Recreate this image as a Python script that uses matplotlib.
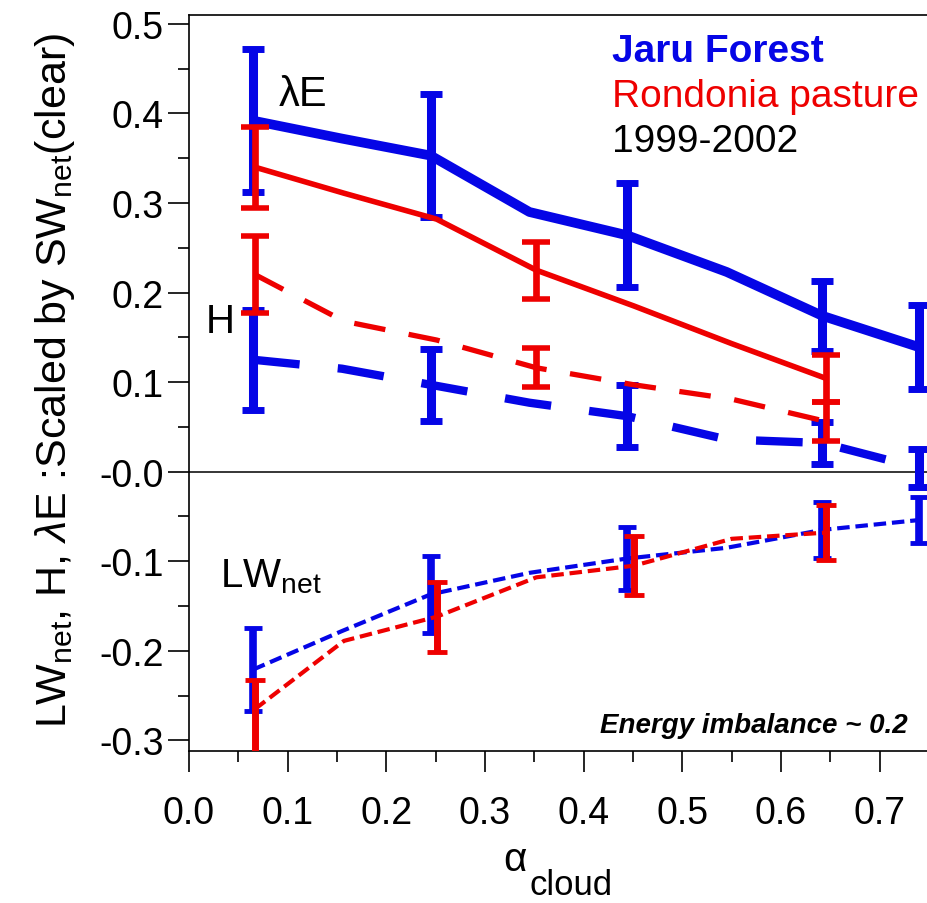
import numpy as np
import matplotlib.pyplot as plt
from matplotlib.ticker import MultipleLocator

plt.rcParams['font.family'] = ['Liberation Sans', 'DejaVu Sans']
plt.rcParams['mathtext.fontset'] = 'custom'
plt.rcParams['mathtext.rm'] = 'Liberation Sans'
plt.rcParams['mathtext.it'] = 'Liberation Sans:italic'
plt.rcParams['mathtext.bf'] = 'Liberation Sans:bold'

nan = np.nan
BLUE = '#0505e6'
RED = '#ee0000'

# cloud albedo bins for each site
x_jaru = [0.065, 0.155, 0.245, 0.345, 0.444, 0.545, 0.642, 0.740]
x_rond = [0.067, 0.157, 0.251, 0.352, 0.451, 0.550, 0.646]

# Jaru forest, scaled fluxes (nan = no error bar at that bin)
le_jaru = [0.392, 0.372, 0.353, 0.290, 0.264, 0.223, 0.174, 0.139]
le_jaru_err = [0.080, nan, 0.069, nan, 0.058, nan, 0.039, 0.047]
h_jaru = [0.125, 0.115, 0.097, 0.077, 0.062, 0.036, 0.032, 0.004]
h_jaru_err = [0.056, nan, 0.040, nan, 0.035, nan, 0.023, 0.021]
lw_jaru = [-0.221, -0.178, -0.137, -0.113, -0.097, -0.085, -0.065, -0.054]
lw_jaru_err = [0.046, nan, 0.043, nan, 0.035, nan, 0.031, 0.026]

# Rondonia pasture
le_rond = [0.340, 0.311, 0.282, 0.225, 0.185, 0.143, 0.104]
le_rond_err = [0.045, nan, nan, 0.032, nan, nan, 0.026]
h_rond = [0.220, 0.168, 0.147, 0.116, 0.097, 0.081, 0.056]
h_rond_err = [0.043, nan, nan, 0.022, nan, nan, 0.022]
lw_rond = [-0.265, -0.189, -0.162, -0.118, -0.105, -0.075, -0.068]
lw_rond_lo = [0.060, nan, 0.039, nan, 0.033, nan, 0.031]
lw_rond_hi = [0.032, nan, 0.039, nan, 0.033, nan, 0.031]

yticks = [-0.3, -0.2, -0.1, 0.0, 0.1, 0.2, 0.3, 0.4, 0.5]
ytick_labels = ['-0.3', '-0.2', '-0.1', '-0.0', '0.1', '0.2', '0.3', '0.4', '0.5']
xticks = [0.0, 0.1, 0.2, 0.3, 0.4, 0.5, 0.6, 0.7]


def bars(ax, x, y, lo, hi, color, lw, cap, capw):
    x = np.asarray(x); y = np.asarray(y)
    lo = np.asarray(lo); hi = np.asarray(hi)
    m = ~np.isnan(lo)
    ax.errorbar(x[m], y[m], yerr=[lo[m], hi[m]], fmt='none', ecolor=color,
                elinewidth=lw, capsize=cap, capthick=capw, zorder=3)


fig = plt.figure(figsize=(9.27, 9.04), dpi=100)
ax = fig.add_axes([0.2039, 0.1681, 0.7983, 0.8142])

# Jaru forest
ax.plot(x_jaru, le_jaru, color=BLUE, lw=7, solid_capstyle='butt', zorder=2)
ax.plot(x_jaru, h_jaru, color=BLUE, lw=6, dashes=(5.6, 4.6), dash_capstyle='butt', zorder=2)
ax.plot(x_jaru, lw_jaru, color=BLUE, lw=3, dashes=(3, 1.4), dash_capstyle='butt', zorder=2)
bars(ax, x_jaru, le_jaru, le_jaru_err, le_jaru_err, BLUE, 6.5, 8.2, 5)
bars(ax, x_jaru, h_jaru, h_jaru_err, h_jaru_err, BLUE, 6.5, 8.2, 5)
bars(ax, x_jaru, lw_jaru, lw_jaru_err, lw_jaru_err, BLUE, 5.5, 6.5, 3.5)

# Rondonia pasture
ax.plot(x_rond, le_rond, color=RED, lw=4, solid_capstyle='butt', zorder=4)
ax.plot(x_rond, h_rond, color=RED, lw=3.8, dashes=(6, 4.5), dash_capstyle='butt', zorder=4)
ax.plot(x_rond, lw_rond, color=RED, lw=3, dashes=(3, 1.4), dash_capstyle='butt', zorder=4)
bars(ax, x_rond, le_rond, le_rond_err, le_rond_err, RED, 4.8, 10, 4)
bars(ax, x_rond, h_rond, h_rond_err, h_rond_err, RED, 4.8, 10, 4)
bars(ax, x_rond, lw_rond, lw_rond_lo, lw_rond_hi, RED, 5, 7, 3.5)

ax.axhline(0, color='black', lw=1.1, zorder=1)

ax.set_xlim(0, 0.75)
ax.set_ylim(-0.312, 0.510)
ax.set_xticks(xticks)
ax.set_xticklabels(['%.1f' % v for v in xticks])
ax.set_yticks(yticks)
ax.set_yticklabels(ytick_labels)
ax.xaxis.set_minor_locator(MultipleLocator(0.05))
ax.yaxis.set_minor_locator(MultipleLocator(0.05))
ax.tick_params(which='major', direction='out', length=15, width=1.2, labelsize=27)
ax.tick_params(which='minor', direction='out', length=8, width=1.2)
ax.tick_params(axis='x', which='major', pad=17)
ax.tick_params(axis='y', which='major', pad=3)
ax.spines['right'].set_visible(False)
for s in ['left', 'top', 'bottom']:
    ax.spines[s].set_linewidth(1.2)

ax.set_ylabel(r'LW$_{\rm net}$, H, $\lambda$E :Scaled by SW$_{\rm net}$(clear)', fontsize=31)
ax.yaxis.set_label_coords(-0.152, 0.505)

# x axis title: alpha with a deep "cloud" subscript
fig.text(0.568, 0.0365, 'α', fontsize=29, ha='right', va='baseline')
fig.text(0.5715, 0.0095, 'cloud', fontsize=25, ha='left', va='baseline')

# labels for the flux groups
ax.text(0.0912, 0.409, 'λE', fontsize=30, va='baseline')
ax.text(0.0172, 0.1564, 'H', fontsize=29, va='baseline')
ax.text(0.0314, -0.128, r'LW$_{\rm net}$', fontsize=29, va='baseline')

ax.text(0.4286, 0.4589, 'Jaru Forest', fontsize=28, fontweight='bold', color=BLUE, va='baseline')
ax.text(0.4286, 0.4087, 'Rondonia pasture', fontsize=28, color=RED, va='baseline')
ax.text(0.4286, 0.3584, '1999-2002', fontsize=28, color='black', va='baseline')
ax.text(0.7285, -0.2905, 'Energy imbalance ~ 0.2', fontsize=20, style='italic',
        fontweight='bold', ha='right', va='baseline')

fig.savefig('out.png', dpi=100)
